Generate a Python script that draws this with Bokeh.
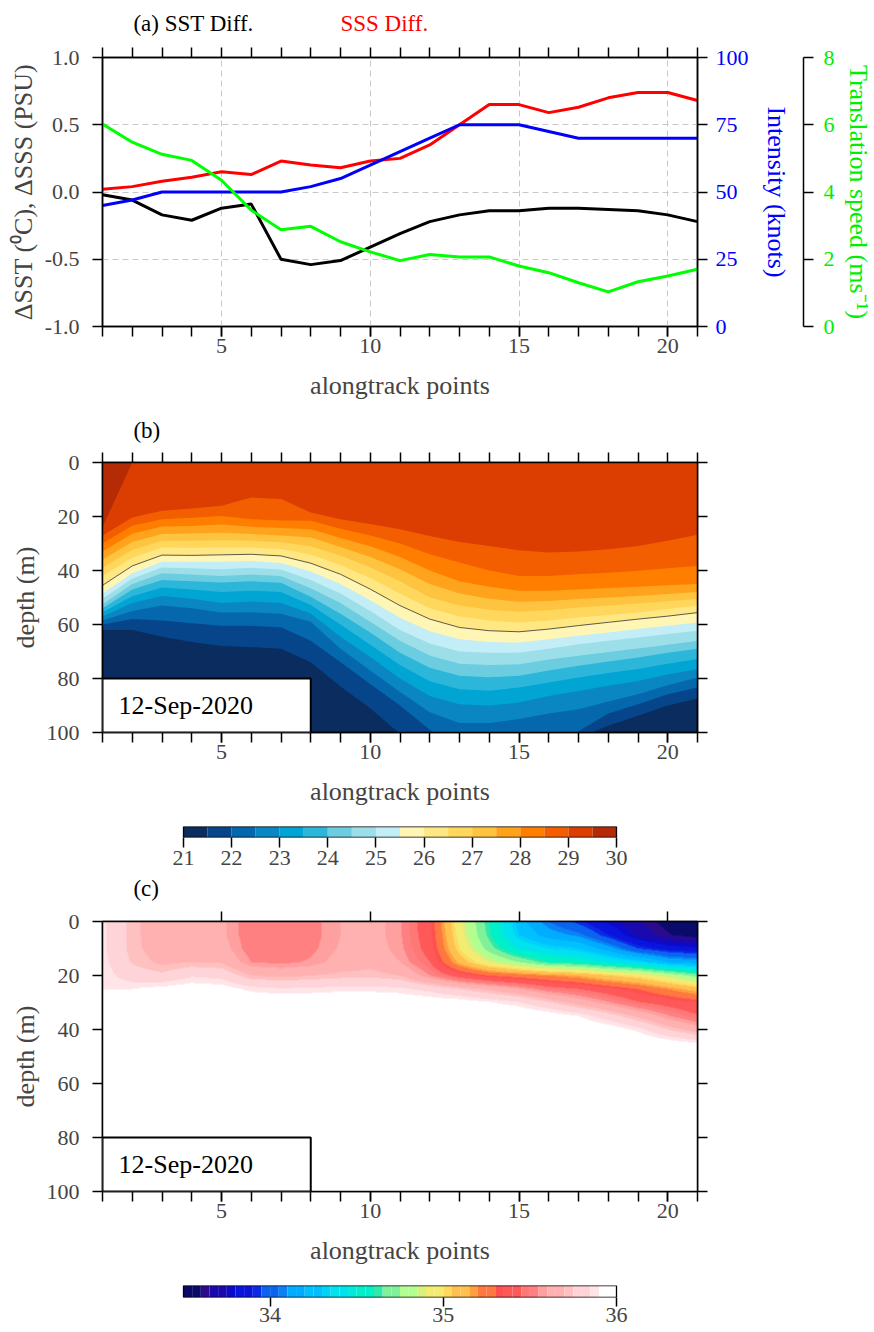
import numpy as np
from bokeh.plotting import figure
from bokeh.models import (Range1d, LinearAxis, FixedTicker, NumeralTickFormatter, Label,
                          BoxAnnotation, LinearColorMapper, Grid)
from bokeh.core.properties import value
from bokeh.layouts import column
from bokeh.embed import file_html
from bokeh.resources import INLINE

FONT = "Liberation Serif"

# ---------------- data: panel (a) ----------------
points = [1, 2, 3, 4, 5, 6, 7, 8, 9, 10, 11, 12, 13, 14, 15, 16, 17, 18, 19, 20, 21]
sst_diff = [-0.02, -0.06, -0.17, -0.21, -0.12, -0.09, -0.50, -0.54, -0.51, -0.41, -0.31,
            -0.22, -0.17, -0.14, -0.14, -0.12, -0.12, -0.13, -0.14, -0.17, -0.22]
sss_diff = [0.02, 0.04, 0.08, 0.11, 0.15, 0.13, 0.23, 0.20, 0.18, 0.23, 0.25,
            0.35, 0.50, 0.65, 0.65, 0.59, 0.63, 0.70, 0.74, 0.74, 0.68]
intensity_kt = [45, 47, 50, 50, 50, 50, 50, 52, 55, 60, 65, 70, 75, 75, 75, 72.5, 70, 70, 70, 70, 70]
trans_speed = [6.02, 5.48, 5.12, 4.94, 4.35, 3.46, 2.88, 2.98, 2.52, 2.22, 1.96,
               2.14, 2.07, 2.07, 1.80, 1.60, 1.30, 1.03, 1.33, 1.50, 1.70]

# ---------------- data: panel (b) temperature, isotherm depths (m) ----------------
temp_bounds = [21.0, 21.5, 22.0, 22.5, 23.0, 23.5, 24.0, 24.5, 25.0, 25.5,
               26.0, 26.5, 27.0, 27.5, 28.0, 28.5, 29.0, 29.5, 30.0]
temp_ticks = [21, 22, 23, 24, 25, 26, 27, 28, 29, 30]
temp_colors = ["#0b2c5f", "#06458a", "#0568ad", "#0a87c2", "#00a5d3", "#2cb7da",
               "#6dcde0", "#9ddfe9", "#c3eef8", "#fff5b4", "#ffe783", "#ffd75c",
               "#ffc43f", "#ffa31c", "#ff7e00", "#f35f00", "#dc3d00", "#b52b05"]
iso_21_5 = [62.0, 62.0, 64.5, 66.5, 68.0, 68.4, 69.0, 74.0, 83.0, 91.0, 100.5, 110.0, 115.0, 115.0, 115.0, 110.0, 102.0, 97.5, 93.8, 90.0, 87.4]
iso_22_0 = [60.0, 58.0, 58.5, 59.5, 60.5, 60.5, 61.0, 66.0, 74.0, 82.0, 90.0, 99.0, 106.0, 108.0, 107.0, 103.0, 99.5, 93.0, 89.5, 85.8, 83.3]
iso_22_5 = [58.5, 55.0, 53.0, 54.0, 55.6, 55.5, 56.0, 59.0, 69.0, 77.0, 85.0, 92.5, 96.5, 96.5, 95.0, 93.0, 91.4, 88.5, 85.8, 82.5, 79.6]
iso_23_0 = [57.0, 52.0, 49.4, 50.5, 52.0, 51.5, 52.0, 55.9, 64.5, 72.0, 80.0, 86.5, 89.5, 90.0, 88.9, 86.5, 84.6, 82.7, 80.9, 78.5, 76.5]
iso_23_5 = [55.5, 49.5, 46.3, 47.0, 48.0, 47.5, 48.0, 52.8, 60.0, 67.5, 75.0, 81.0, 84.0, 84.5, 83.3, 81.5, 79.6, 78.0, 76.5, 74.5, 72.8]
iso_24_0 = [54.0, 47.0, 43.5, 44.0, 44.4, 44.0, 44.5, 49.7, 56.0, 63.0, 70.5, 76.0, 79.0, 79.5, 79.0, 77.0, 75.3, 73.7, 72.2, 70.5, 69.0]
iso_24_5 = [52.5, 45.0, 41.0, 41.5, 42.0, 41.5, 42.0, 46.6, 52.0, 59.0, 66.0, 71.5, 74.5, 75.0, 74.7, 73.0, 71.6, 70.2, 68.9, 67.5, 66.0]
iso_25_0 = [50.5, 43.0, 38.9, 39.2, 39.5, 39.0, 39.6, 43.5, 48.5, 55.0, 62.0, 67.0, 70.0, 70.5, 70.4, 69.0, 67.3, 66.0, 64.8, 63.5, 62.3]
iso_25_5 = [48.5, 41.0, 36.8, 36.8, 36.8, 36.5, 37.2, 40.4, 45.0, 51.0, 57.5, 62.5, 65.5, 66.5, 66.7, 65.5, 64.2, 63.0, 61.7, 60.5, 59.3]
iso_26_0 = [45.5, 38.3, 34.3, 34.4, 34.2, 34.0, 34.6, 37.3, 41.4, 46.9, 53.0, 58.0, 61.1, 62.3, 62.7, 61.7, 60.4, 59.2, 58.0, 56.9, 55.6]
iso_26_5 = [42.0, 35.3, 31.5, 31.6, 31.5, 31.5, 32.0, 34.1, 38.0, 42.8, 48.5, 54.0, 57.0, 58.5, 59.3, 58.5, 57.4, 56.5, 55.6, 54.3, 53.0]
iso_27_0 = [39.0, 32.4, 29.0, 29.0, 28.8, 29.0, 29.5, 31.0, 34.5, 38.8, 44.0, 50.0, 53.0, 54.5, 55.3, 54.7, 53.7, 53.0, 52.2, 51.4, 50.6]
iso_27_5 = [36.0, 29.4, 26.5, 26.3, 26.0, 26.5, 27.0, 27.8, 31.3, 35.0, 39.5, 45.0, 48.5, 50.5, 51.6, 51.3, 50.6, 50.0, 49.4, 48.7, 48.0]
iso_28_0 = [33.0, 26.4, 23.7, 23.5, 23.0, 23.8, 24.3, 24.7, 28.0, 31.0, 35.0, 40.0, 44.0, 46.0, 47.5, 47.5, 47.0, 46.5, 46.0, 45.5, 45.0]
iso_28_5 = [30.0, 23.4, 21.0, 20.5, 19.8, 21.0, 21.5, 21.6, 24.5, 27.0, 30.0, 34.0, 37.0, 40.0, 42.0, 42.0, 41.4, 40.8, 40.1, 39.2, 38.3]
iso_29_0 = [27.0, 20.4, 17.9, 17.0, 16.0, 13.0, 13.5, 18.5, 21.0, 22.8, 24.7, 27.2, 29.4, 30.9, 32.5, 33.3, 33.0, 32.1, 30.9, 29.0, 26.8]
iso_29_5 = [24.0, 0, 0, 0, 0, 0, 0, 0, 0, 0, 0, 0, 0, 0, 0, 0, 0, 0, 0, 0, 0]
isotherms = [iso_21_5, iso_22_0, iso_22_5, iso_23_0, iso_23_5, iso_24_0, iso_24_5, iso_25_0,
             iso_25_5, iso_26_0, iso_26_5, iso_27_0, iso_27_5, iso_28_0, iso_28_5, iso_29_0, iso_29_5]

# ---------------- data: panel (c) salinity profiles (PSU) ----------------
sal_depths = [0, 5, 10, 15, 20, 25, 30, 35, 40, 45, 50]
sal_0m = [35.87, 35.72, 35.65, 35.65, 35.62, 35.50, 35.50, 35.52, 35.60, 35.64, 35.56, 35.37, 34.92, 34.60, 34.25, 34.05, 33.92, 33.78, 33.66, 33.56, 33.51]
sal_5m = [35.87, 35.72, 35.65, 35.65, 35.62, 35.50, 35.50, 35.52, 35.60, 35.64, 35.56, 35.38, 34.95, 34.62, 34.30, 34.15, 34.08, 33.90, 33.72, 33.61, 33.55]
sal_10m = [35.87, 35.72, 35.66, 35.66, 35.64, 35.51, 35.50, 35.53, 35.61, 35.65, 35.57, 35.40, 35.00, 34.70, 34.45, 34.35, 34.30, 34.15, 33.95, 33.86, 33.82]
sal_15m = [35.88, 35.74, 35.68, 35.70, 35.69, 35.55, 35.53, 35.56, 35.64, 35.67, 35.60, 35.45, 35.12, 34.90, 34.75, 34.60, 34.55, 34.45, 34.35, 34.20, 34.15]
sal_20m = [35.89, 35.80, 35.77, 35.84, 35.82, 35.70, 35.68, 35.70, 35.72, 35.73, 35.70, 35.55, 35.40, 35.30, 35.25, 35.20, 35.15, 35.05, 34.98, 34.85, 34.70]
sal_25m = [35.90, 35.90, 35.93, 35.95, 35.94, 35.88, 35.86, 35.87, 35.88, 35.88, 35.87, 35.82, 35.75, 35.68, 35.60, 35.50, 35.45, 35.38, 35.30, 35.20, 35.10]
sal_30m = [35.97, 35.98, 36.00, 36.00, 36.00, 35.98, 35.97, 35.97, 35.98, 35.98, 35.97, 35.96, 35.95, 35.91, 35.86, 35.76, 35.66, 35.56, 35.46, 35.40, 35.35]
sal_35m = [36.00, 36.00, 36.00, 36.00, 36.00, 36.00, 36.00, 36.00, 36.00, 36.00, 36.00, 36.00, 36.00, 36.00, 36.00, 35.96, 35.90, 35.80, 35.68, 35.56, 35.46]
sal_40m = [36.00, 36.00, 36.00, 36.00, 36.00, 36.00, 36.00, 36.00, 36.00, 36.00, 36.00, 36.00, 36.00, 36.00, 36.00, 36.00, 36.00, 35.96, 35.88, 35.75, 35.65]
sal_45m = [36.00, 36.00, 36.00, 36.00, 36.00, 36.00, 36.00, 36.00, 36.00, 36.00, 36.00, 36.00, 36.00, 36.00, 36.00, 36.00, 36.00, 36.00, 36.00, 35.95, 35.90]
sal_50m = [36.00, 36.00, 36.00, 36.00, 36.00, 36.00, 36.00, 36.00, 36.00, 36.00, 36.00, 36.00, 36.00, 36.00, 36.00, 36.00, 36.00, 36.00, 36.00, 36.00, 36.00]
sal_rows = [sal_0m, sal_5m, sal_10m, sal_15m, sal_20m, sal_25m, sal_30m, sal_35m, sal_40m, sal_45m, sal_50m]
sal_low, sal_high = 33.5, 36.0
sal_colors = ["#0a0a6a", "#0a0a6a", "#2c0a8c", "#1a0aae", "#1a0aae", "#0a0acc", "#0a14dc", "#0a14dc",
              "#0a2ae8", "#0a64f0", "#0a64f0", "#0a82f6", "#00acff", "#00acff", "#00c0ff", "#00c0ff",
              "#00d2fa", "#00e2ee", "#00e2ee", "#00eadc", "#00f0c8", "#00f0c8", "#30e8a8", "#80f09a",
              "#80f09a", "#b0ff90", "#b0ff90", "#d8f080", "#f4ec70", "#f4ec70", "#ffd860", "#ffc050",
              "#ffc050", "#ffa040", "#ff7840", "#ff7840", "#ff5050", "#ff5858", "#ff5858", "#ff7878",
              "#ff8080", "#ffa0a0", "#ffb0b0", "#ffb0b0", "#ffc0c0", "#ffd4d8", "#ffd4d8", "#ffe4e8",
              "#ffffff", "#ffffff"]
sal_ticks = [34, 35, 36]
date_text = "12-Sep-2020"

# layout (page pixels)
FRAME_L, FRAME_W, RIGHT_B = 102, 595, 177
BAR_L, BAR_R = 183, 616


def style(ax, label_size="22px"):
    ax.major_label_text_font = FONT
    ax.major_label_text_font_size = label_size
    ax.axis_label_text_font = FONT
    ax.axis_label_text_font_size = "26px"
    ax.axis_label_text_font_style = "normal"
    ax.major_tick_in = 0
    ax.major_tick_out = 10
    ax.minor_tick_in = 0
    ax.minor_tick_out = 10
    ax.axis_line_width = 1.5
    ax.major_tick_line_width = 1.5
    ax.minor_tick_line_width = 1.5
    ax.major_label_standoff = 8
    return ax


def base_fig(top, bottom, xr, yr, fh=270):
    p = figure(frame_width=FRAME_W, frame_height=fh, x_range=xr, y_range=yr,
               x_axis_type=None, y_axis_type=None, output_backend="svg",
               toolbar_location=None, min_border_left=FRAME_L, min_border_right=RIGHT_B,
               min_border_top=top, min_border_bottom=bottom)
    p.outline_line_color = "black"
    p.outline_line_width = 1.5
    p.outline_line_alpha = 1.0
    p.background_fill_color = "white"
    p.border_fill_color = "white"
    return p


def header_fig(h, items):
    # a strip of text above a panel; y measured in pixels from the strip's top
    hdr = base_fig(0, 0, Range1d(1, 21), Range1d(h, 0), fh=h)
    hdr.outline_line_color = None
    for x, y, txt, col in items:
        hdr.text(x=[x], y=[y], text=[txt], text_font=value(FONT), text_font_size="23px",
                 text_baseline="middle", text_align="left", text_color=col)
    return hdr


def tick_only_axis(ticks, **kw):
    # ticks without labels (drawn as minor ticks)
    ax = LinearAxis(ticker=FixedTicker(ticks=[], minor_ticks=ticks), **kw)
    style(ax)
    ax.major_label_standoff = 0
    return ax


def bottom_axis(ticker):
    xb = style(LinearAxis(ticker=ticker, axis_label="alongtrack points"))
    xb.major_label_standoff = 2
    xb.axis_label_standoff = 15
    return xb


# ================= panel (a) =================
h1 = header_fig(40, [(2.04, 23, "(a) SST Diff.", "black"), (9.0, 23, "SSS Diff.", "#ff0000")])
p1 = base_fig(17, 84, Range1d(1, 21), Range1d(-1, 1), fh=269)
p1.extra_y_ranges = {"int": Range1d(0, 100), "spd": Range1d(0, 8)}
xt1 = FixedTicker(ticks=[5, 10, 15, 20], minor_ticks=points)
p1.add_layout(bottom_axis(xt1), "below")
p1.add_layout(tick_only_axis(points), "above")
yt1 = FixedTicker(ticks=[-1.0, -0.5, 0.0, 0.5, 1.0])
yl1 = style(LinearAxis(ticker=yt1, formatter=NumeralTickFormatter(format="0.0"),
                       axis_label="\u0394SST (\u2070C), \u0394SSS (PSU)"))
yl1.major_label_standoff = 13
yl1.axis_label_standoff = 4
p1.add_layout(yl1, "left")
yr_int = style(LinearAxis(y_range_name="int", ticker=FixedTicker(ticks=[0, 25, 50, 75, 100]),
                          axis_label="Intensity (knots)"))
yr_int.major_label_text_color = "#0000ff"
yr_int.axis_label_text_color = "#0000ff"
yr_int.major_label_standoff = 8
yr_int.axis_label_standoff = 10
p1.add_layout(yr_int, "right")
# gap before the translation-speed axis (one invisible white minor tick)
spacer = LinearAxis(y_range_name="int", ticker=FixedTicker(ticks=[], minor_ticks=[50]),
                    axis_line_color=None, major_tick_line_color="white", minor_tick_line_color="white",
                    major_tick_out=10, major_tick_in=0, minor_tick_out=10, minor_tick_in=0,
                    major_label_standoff=0)
p1.add_layout(spacer, "right")
yr_spd = style(LinearAxis(y_range_name="spd", ticker=FixedTicker(ticks=[0, 2, 4, 6, 8]),
                          axis_label="Translation speed (ms\u207b\u00b9)"))
yr_spd.major_label_text_color = "#00ee00"
yr_spd.axis_label_text_color = "#00ee00"
yr_spd.major_label_standoff = 10
yr_spd.axis_label_standoff = 6
p1.add_layout(yr_spd, "right")
p1.add_layout(Grid(dimension=0, ticker=xt1, grid_line_color="#c8c8c8", grid_line_dash="6 4", grid_line_width=1))
p1.add_layout(Grid(dimension=1, ticker=yt1, grid_line_color="#c8c8c8", grid_line_dash="6 4", grid_line_width=1))

p1.line(points, sst_diff, line_color="black", line_width=3)
p1.line(points, sss_diff, line_color="#ff0000", line_width=3)
p1.line(points, intensity_kt, line_color="#0000ff", line_width=3, y_range_name="int")
p1.line(points, trans_speed, line_color="#00ff00", line_width=3, y_range_name="spd")


def section_axes(p, top_ticks, ylabel="depth (m)"):
    xt = FixedTicker(ticks=[5, 10, 15, 20], minor_ticks=points)
    p.add_layout(bottom_axis(xt), "below")
    p.add_layout(tick_only_axis(top_ticks), "above")
    yt = FixedTicker(ticks=[0, 20, 40, 60, 80, 100])
    yl = style(LinearAxis(ticker=yt, axis_label=ylabel))
    yl.major_label_standoff = 13
    yl.axis_label_standoff = 4
    p.add_layout(yl, "left")
    p.add_layout(tick_only_axis([0, 20, 40, 60, 80, 100]), "right")


def date_box(p):
    p.add_layout(BoxAnnotation(left=1, right=8, top=80, bottom=100, fill_color="white", fill_alpha=1.0,
                               line_color="black", line_width=2, line_alpha=1.0))
    p.add_layout(Label(x=1.54, y=90, text=date_text, text_font=FONT, text_font_size="26px",
                       text_baseline="middle", text_color="black"))


def colorbar_fig(top, bottom, fh, lo, hi, bounds, colors, ticks, tick_len, standoff):
    per_px = (hi - lo) / (BAR_R - BAR_L)
    xr = Range1d(lo - (BAR_L - FRAME_L) * per_px, hi + (FRAME_L + FRAME_W - BAR_R) * per_px)
    c = base_fig(top, bottom, xr, Range1d(0, 1), fh=fh)
    c.outline_line_color = None
    c.quad(left=bounds[:-1], right=bounds[1:], bottom=0, top=1, fill_color=colors, line_color=None)
    c.quad(left=[lo], right=[hi], bottom=[0], top=[1], fill_color=None, line_color="black", line_width=1.3)
    ax = style(LinearAxis(ticker=FixedTicker(ticks=ticks)))
    ax.axis_line_color = None
    ax.major_tick_out = tick_len
    ax.major_label_standoff = standoff
    c.add_layout(ax, "below")
    return c


# ================= panel (b) =================
h2 = header_fig(35, [(2.04, 20, "(b)", "black")])
p2 = base_fig(17, 84, Range1d(1, 21), Range1d(100, 0))
p2.background_fill_color = temp_colors[0]
for k, depth in enumerate(isotherms):
    p2.varea(x=points, y1=[0] * len(points), y2=depth, fill_color=temp_colors[k + 1], fill_alpha=1.0)
p2.line(points, iso_26_0, line_color="#333333", line_width=0.8)
section_axes(p2, points)
date_box(p2)

# ================= colorbar 1 =================
cb1 = colorbar_fig(10, 38, 11, temp_bounds[0], temp_bounds[-1], temp_bounds, temp_colors, temp_ticks, 10, 3)

# ================= panel (c) =================
h3 = header_fig(32, [(2.04, 13, "(c)", "black")])
p3 = base_fig(14, 84, Range1d(1, 21), Range1d(100, 0))
zg = np.linspace(0, 100, 541)
xg = np.linspace(1, 21, 1191)
cols = np.array(sal_rows)  # depth x point
prof = np.array([np.interp(zg, sal_depths, cols[:, i]) for i in range(len(points))]).T
field = np.array([np.interp(xg, points, prof[j, :]) for j in range(len(zg))])
mapper = LinearColorMapper(palette=sal_colors, low=sal_low, high=sal_high, high_color="#ffffff")
p3.image(image=[field], x=1, y=0, dw=20, dh=100, color_mapper=mapper)
section_axes(p3, [5, 10, 15, 20])
date_box(p3)

# ================= colorbar 2 =================
sal_bounds = list(np.round(np.linspace(sal_low, sal_high, len(sal_colors) + 1), 3))
cb2 = colorbar_fig(10, 35, 12, sal_low, sal_high, sal_bounds, sal_colors, sal_ticks, 9, 1)

layout = column(h1, p1, h2, p2, cb1, h3, p3, cb2, spacing=0)
open("out.html", "w").write(file_html(layout, INLINE))
